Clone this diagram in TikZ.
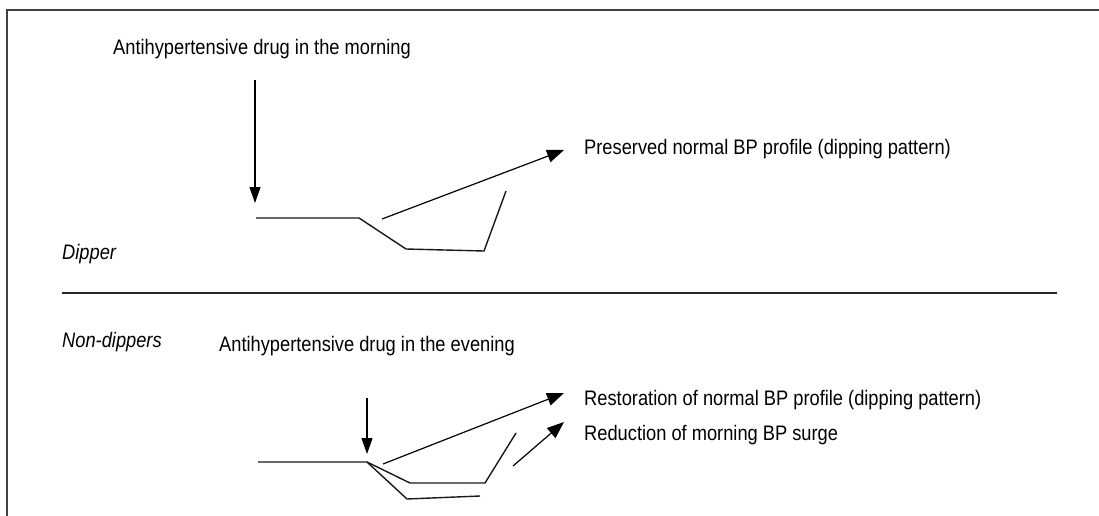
\documentclass[tikz,border=0pt]{standalone}
\usepackage{fontspec}
\setmainfont{Liberation Sans}[FakeStretch=0.87]
\usetikzlibrary{arrows.meta}
\tikzset{
  lbl/.style={anchor=base west, inner sep=0pt, font=\fontsize{21}{25}\selectfont},
  ital/.style={lbl, font=\fontsize{21}{25}\selectfont\itshape},
  curve/.style={line width=1.4pt, line join=miter, black!90},
  arr/.style={line width=1.2pt, -{Triangle[length=17pt,width=13pt]}},
  varr/.style={line width=1.2pt, -{Triangle[length=16pt,width=11pt]}},
  frame/.style={line width=2pt, black!75}
}
\begin{document}
\begin{tikzpicture}[x=1pt,y=-1pt]
\useasboundingbox (0,0) rectangle (1099,516);
% frame
\coordinate (fbl) at (7,516);
\coordinate (ftl) at (7,10);
\coordinate (ftr) at (1099,10);
\draw[frame] (fbl) -- (ftl) -- (ftr);
% divider
\coordinate (dl) at (62,293);
\coordinate (dr) at (1057,293);
\draw[line width=1.6pt, black!85] (dl) -- (dr);

% ---- Dipper ----
\node[lbl] (morning) at (113,55) {Antihypertensive drug in the morning};
\node[ital] (dipper) at (62,259) {Dipper};
\node[lbl] (preserved) at (584,154) {Preserved normal BP profile (dipping pattern)};
\coordinate (a1s) at (255,80);
\coordinate (a1e) at (255,203);
\draw[varr] (a1s) -- (a1e);
\coordinate (p1) at (256,218);
\coordinate (p2) at (359,218);
\coordinate (p3) at (406,249);
\coordinate (p4) at (484,251);
\coordinate (p5) at (506,191);
\draw[curve] (p1) -- (p2) -- (p3) -- (p4) -- (p5);
\coordinate (a2s) at (382,219);
\coordinate (a2e) at (564,150);
\draw[arr] (a2s) -- (a2e);

% ---- Non-dippers ----
\node[ital] (nondip) at (62,347) {Non-dippers};
\node[lbl] (evening) at (219,351) {Antihypertensive drug in the evening};
\node[lbl] (restor) at (584,405) {Restoration of normal BP profile (dipping pattern)};
\node[lbl] (reduct) at (584,440) {Reduction of morning BP surge};
\coordinate (a3s) at (367,398);
\coordinate (a3e) at (367,454);
\draw[varr] (a3s) -- (a3e);
\coordinate (q1) at (258,462);
\coordinate (q2) at (367,462);
\coordinate (q3) at (410,483);
\coordinate (q4) at (485,483);
\coordinate (q5) at (516,433);
\draw[curve] (q1) -- (q2) -- (q3) -- (q4) -- (q5);
\coordinate (r3) at (407,499);
\coordinate (r4) at (480,496);
\draw[curve] (q2) -- (r3) -- (r4);
\coordinate (a4s) at (383,464);
\coordinate (a4e) at (564,393);
\draw[arr] (a4s) -- (a4e);
\coordinate (a5s) at (513,466);
\coordinate (a5e) at (564,422);
\draw[arr] (a5s) -- (a5e);
\end{tikzpicture}
\end{document}
